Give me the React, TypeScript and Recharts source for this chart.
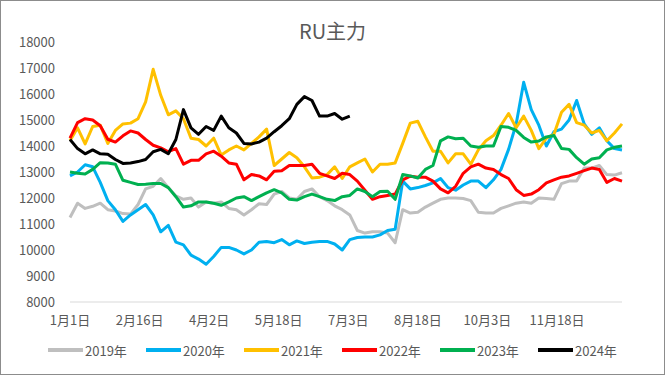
import { LineChart, Line, XAxis, YAxis, Legend } from 'recharts';

// day-of-year sampled every 5 days
const days = Array.from({ length: 74 }, (_, i) => i * 5);

const tickDays = [0, 46, 92, 138, 184, 230, 276, 322];
const tickLabels = ['1月1日', '2月16日', '4月2日', '5月18日', '7月3日', '8月18日', '10月3日', '11月18日'];
const yTicks = [8000, 9000, 10000, 11000, 12000, 13000, 14000, 15000, 16000, 17000, 18000];

const names = ['2019年', '2020年', '2021年', '2022年', '2023年', '2024年'];
const colors = ['#BFBFBF', '#00B0F0', '#FFC000', '#FF0000', '#00B050', '#000000'];

const v2019 = [
  11250, 11800, 11600, 11680, 11800, 11550, 11500, 11400, 11380, 11750,
  12350, 12450, 12750, 12400, 12080, 11950, 12000, 11650, 11850, 11800,
  11850, 11600, 11550, 11350, 11550, 11780, 11750, 12150, 12250, 12000,
  11950, 12250, 12350, 12050, 11900, 11700, 11550, 11350, 10750, 10650,
  10700, 10700, 10650, 10280, 11550, 11420, 11450, 11650, 11800, 11950,
  12000, 12000, 11980, 11900, 11450, 11420, 11420, 11600, 11700, 11800,
  11850, 11800, 12000, 11980, 11950, 12550, 12650, 12650, 13150, 13150,
  13250, 12900, 12880, 12970,
];
const v2020 = [
  12850, 13000, 13280, 13200, 12600, 11900, 11550, 11100, 11350, 11550,
  11750, 11350, 10700, 10950, 10300, 10200, 9800, 9650, 9450, 9750,
  10100, 10100, 10000, 9850, 10000, 10300, 10330, 10280, 10400, 10200,
  10350, 10250, 10300, 10330, 10330, 10230, 10000, 10400, 10480, 10500,
  10500, 10580, 10750, 10800, 12650, 12350, 12400, 12480, 12580, 12750,
  12400, 12300, 12500, 12650, 12650, 12400, 12700, 13100, 13870, 14840,
  16450, 15400, 14800, 14000, 14550, 14650, 15000, 15750, 14850, 14450,
  14700, 14200, 13900, 13850,
];
const v2021 = [
  14200, 14700, 14080, 14750, 14800, 14100, 14600, 14850, 14880, 15050,
  15700, 16950, 15950, 15200, 15350, 15050, 14300, 14250, 14000, 14300,
  13650, 13850, 14000, 13850, 14100, 14350, 14650, 13250, 13500, 13750,
  13550, 13200, 12770, 12800, 12900, 13200, 12750, 13200, 13350, 13500,
  13000, 13300, 13300, 13350, 14100, 14880, 14950, 14350, 13800, 13800,
  13350, 13700, 13700, 13300, 13850, 14200, 14400, 14800, 15250, 14700,
  15150, 14600, 13900, 14300, 14450, 15300, 15600, 14900, 14800, 14500,
  14600, 14200, 14500, 14850,
];
const v2022 = [
  14300, 14900, 15050, 15000, 14780, 14260, 14150, 14390, 14580, 14500,
  14250, 14030, 13930, 13780, 13900, 13300, 13450, 13450, 13700, 13800,
  13610, 13350, 13300, 12700, 12900, 12850, 12700, 13030, 13050, 13250,
  13250, 13250, 13300, 12950, 12850, 12750, 12950, 12900, 12650, 12300,
  11950, 12050, 12100, 12150, 12700, 12840, 12800, 12800, 12650, 12350,
  12200, 12450, 12950, 13200, 13300, 13150, 13100, 12900, 12750, 12320,
  12100, 12150, 12320, 12580, 12700, 12800, 12850, 12950, 13050, 13150,
  13100, 12600, 12750, 12650,
];
const v2023 = [
  13000, 12950, 12920, 13100, 13360, 13350, 13300, 12680, 12600, 12520,
  12530, 12560, 12560, 12400, 12050, 11650, 11700, 11850, 11850, 11800,
  11720, 11850, 12000, 12050, 11900, 12050, 12200, 12320, 12200, 11950,
  11920, 12050, 12150, 12050, 11950, 11900, 12050, 12100, 12350, 12250,
  12050, 12250, 12260, 11950, 12900, 12850, 12770, 13100, 13250, 14200,
  14350, 14280, 14300, 14000, 13950, 14000, 14000, 14750, 14720, 14600,
  14330, 14150, 14190, 14350, 14400, 13900, 13870, 13550, 13300, 13500,
  13550, 13850, 13950, 14000,
];
const v2024 = [
  14250, 13900, 13700, 13850, 13700, 13680, 13480, 13330, 13350, 13400,
  13480, 13780, 13870, 13700, 14250, 15400, 14700, 14450, 14750, 14600,
  15150, 14700, 14500, 14100, 14080, 14150, 14300, 14550, 14780, 15050,
  15600, 15900, 15750, 15150, 15150, 15250, 15030, 15150,
];

const seriesValues = [v2019, v2020, v2021, v2022, v2023, v2024];
const keys = ['y2019', 'y2020', 'y2021', 'y2022', 'y2023', 'y2024'];

const data = days.map((day, i) => {
  const row: Record<string, number | null> = { day };
  keys.forEach((k, s) => {
    row[k] = seriesValues[s][i] ?? null;
  });
  return row;
});

const font = '"Noto Sans CJK SC", "Noto Sans", sans-serif';
const textColor = '#595959';

function tickLabel(d: number) {
  const idx = tickDays.indexOf(d);
  return idx >= 0 ? tickLabels[idx] : '';
}

function LegendRow(props: any) {
  const payload = props.payload || [];
  return (
    <div style={{ display: 'flex', alignItems: 'center', height: 20, paddingLeft: 48, fontFamily: font, fontSize: 13, color: textColor }}>
      {payload.map((entry: any) => (
        <div key={entry.value} style={{ display: 'flex', alignItems: 'center', width: 98 }}>
          <span style={{ display: 'inline-block', width: 35, height: 4, background: entry.color, marginRight: 2 }} />
          <span>{entry.value}</span>
        </div>
      ))}
    </div>
  );
}

export default function App() {
  return (
    <div
      style={{
        position: 'absolute',
        left: 0,
        top: 0,
        width: 665,
        height: 375,
        background: '#fff',
        outline: '1px solid #8c8c8c',
        outlineOffset: -1,
        fontFamily: font,
      }}
    >
      <div
        style={{
          position: 'absolute',
          top: 18,
          left: 0,
          width: 665,
          textAlign: 'center',
          fontSize: 20,
          lineHeight: '25px',
          color: textColor,
        }}
      >
        RU主力
      </div>
      <LineChart width={665} height={375} data={data} margin={{ top: 42, right: 43, bottom: 23, left: 0 }}>
        <XAxis
          dataKey="day"
          type="number"
          domain={[0, 365]}
          ticks={tickDays}
          tickFormatter={tickLabel}
          interval={0}
          height={30}
          tickLine={false}
          tickSize={0}
          tickMargin={14}
          axisLine={{ stroke: '#d9d9d9', strokeWidth: 1 }}
          tick={{ fill: textColor, fontSize: 13, fontFamily: font }}
        />
        <YAxis
          domain={[8000, 18000]}
          ticks={yTicks}
          interval={0}
          width={70}
          axisLine={false}
          tickLine={false}
          tickSize={0}
          tickMargin={15}
          tick={{ fill: textColor, fontSize: 13, fontFamily: font }}
        />
        <Legend
          content={<LegendRow />}
          verticalAlign="bottom"
          wrapperStyle={{ top: 340, left: 0, bottom: 'auto', width: 665 }}
        />
        {keys.map((k, s) => (
          <Line
            key={k}
            dataKey={k}
            name={names[s]}
            stroke={colors[s]}
            strokeWidth={3}
            dot={false}
            activeDot={false}
            strokeLinejoin="round"
            isAnimationActive={false}
            connectNulls={false}
          />
        ))}
      </LineChart>
    </div>
  );
}
